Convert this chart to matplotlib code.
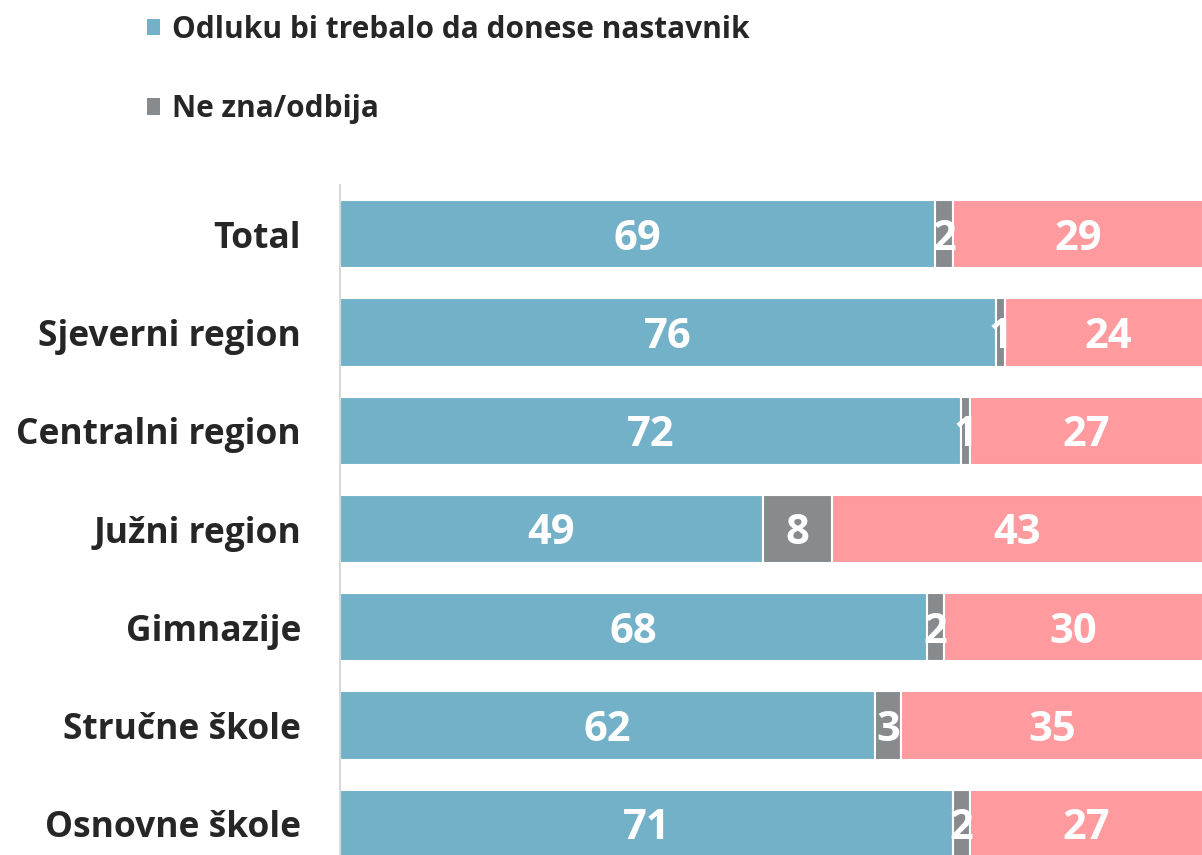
import numpy as np
import matplotlib.pyplot as plt
from matplotlib.patches import Patch

plt.rcParams['font.family'] = ['Open Sans', 'DejaVu Sans']

categories = ['Total', 'Sjeverni region', 'Centralni region', 'Južni region',
              'Gimnazije', 'Stručne škole', 'Osnovne škole']
nastavnik = [69, 76, 72, 49, 68, 62, 71]
ne_zna = [2, 1, 1, 8, 2, 3, 2]
ostalo = [29, 24, 27, 43, 30, 35, 27]

series = [nastavnik, ne_zna, ostalo]
colors = ['#72b1c8', '#878b8e', '#ff9a9e']
labels = ['Odluku bi trebalo da donese nastavnik', 'Ne zna/odbija']

W, H = 1202, 855
fig = plt.figure(figsize=(W / 100, H / 100), dpi=100)
ax = fig.add_axes([340 / W, 1 - 873 / H, 863 / W, 688 / H])

y = np.arange(len(categories))
left = np.zeros(len(categories))
for vals, col in zip(series, colors):
    vals = np.array(vals, dtype=float)
    ax.barh(y, vals, left=left, height=0.695, color=col,
            edgecolor='white', linewidth=1.5)
    for yi, l, v in zip(y, left, vals):
        ax.text(l + v / 2, yi + 0.05, f'{v:.0f}', ha='center', va='center',
                color='white', fontsize=30, fontweight='bold')
    left += vals

ax.set_xlim(0, 100)
ax.set_ylim(6.5, -0.5)
ax.set_yticks(y)
ax.set_yticklabels(categories, fontsize=25.5, fontweight='bold', color='#262626')
ax.tick_params(axis='y', length=0, pad=28)
ax.set_xticks([])
for s in ['top', 'right', 'bottom']:
    ax.spines[s].set_visible(False)
ax.spines['left'].set_color('#d9d9d9')
ax.spines['left'].set_linewidth(1.5)

handles = [Patch(facecolor=c, edgecolor='none') for c in colors[:2]]
fig.legend(handles, labels, loc='upper left', bbox_to_anchor=(120 / W, 1 + 12 / H),
           frameon=False, prop={'size': 21.5, 'weight': 'bold'},
           handlelength=0.45, handleheight=0.45, handletextpad=0.4,
           labelspacing=1.65, labelcolor='#262626')

fig.savefig('out.png', dpi=100)
